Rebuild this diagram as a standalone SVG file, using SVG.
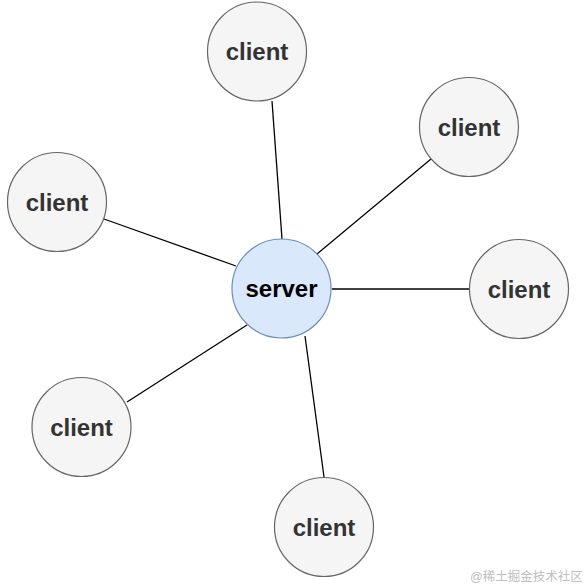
<svg xmlns="http://www.w3.org/2000/svg" width="584" height="587" viewBox="0 0 584 587">
<style>
.client circle{fill:#f5f5f5;stroke:#666666;stroke-width:1.2}
.server circle{fill:#dae8fc;stroke:#6c8ebf;stroke-width:1.2}
text{font-family:"Liberation Sans",Arial,Helvetica,sans-serif;font-weight:bold;font-size:24px;text-anchor:middle}
.client text{fill:#333333}
.server text{fill:#000000}
#edges line{stroke:#000000;stroke-width:1.3}
.wm{font-family:"Liberation Sans","Noto Sans CJK SC",sans-serif;font-weight:normal;font-size:12.5px;fill:#c0c0c0;text-anchor:start}
</style>
<rect width="584" height="587" fill="#ffffff"/>
<g id="edges">
<line x1="272" y1="101" x2="282" y2="239"/>
<line x1="431" y1="159" x2="317" y2="254"/>
<line x1="104" y1="219" x2="236" y2="266"/>
<line x1="332" y1="289" x2="469" y2="289"/>
<line x1="127" y1="402" x2="247" y2="325"/>
<line x1="305" y1="336" x2="324" y2="477"/>
</g>
<g id="server" class="server"><circle cx="281.5" cy="288.5" r="49.5"/><text x="281.5" y="297">server</text></g>
<g id="client-top" class="client"><circle cx="257" cy="51.5" r="49.5"/><text x="257" y="60">client</text></g>
<g id="client-topright" class="client"><circle cx="469" cy="127" r="49.5"/><text x="469" y="135.5">client</text></g>
<g id="client-left" class="client"><circle cx="57" cy="202" r="49.5"/><text x="57" y="210.5">client</text></g>
<g id="client-right" class="client"><circle cx="519" cy="289" r="49.5"/><text x="519" y="297.5">client</text></g>
<g id="client-bottomleft" class="client"><circle cx="81.5" cy="427" r="49.5"/><text x="81.5" y="435.5">client</text></g>
<g id="client-bottom" class="client"><circle cx="324" cy="527" r="49.5"/><text x="324" y="535.5">client</text></g>
<text class="wm" x="470" y="581">@稀土掘金技术社区</text>
</svg>
